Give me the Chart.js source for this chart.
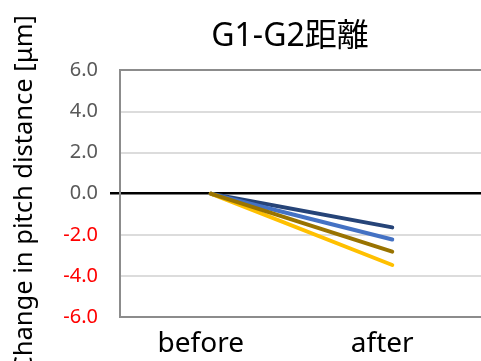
<!DOCTYPE html>
<html>
<head>
<meta charset="utf-8">
<script src="https://cdn.jsdelivr.net/npm/chart.js@4/dist/chart.umd.min.js"></script>
<style>
  html, body { margin: 0; padding: 0; overflow: hidden; background: #fff; }
  #wrap { position: relative; width: 481px; height: 361px; overflow: hidden; }
  canvas { display: block; position: absolute; left: 0; top: 0; }
</style>
</head>
<body>
<div id="wrap"><canvas id="c" width="580" height="361"></canvas></div>
<script>
// Pitch distance change between G1 and G2, before vs. after
const categories = ['before', 'after'];
const seriesA = [0, -1.64];
const seriesB = [0, -2.23];
const seriesC = [0, -2.82];
const seriesD = [0, -3.47];
const yTickValues = [6, 4, 2, 0, -2, -4, -6];

const FONT = "'Noto Sans', 'Noto Sans CJK JP', sans-serif";

const line = (data, color, order) => ({
  data, borderColor: color, backgroundColor: color,
  borderWidth: 4, pointRadius: 0, borderCapStyle: 'round',
  tension: 0, order
});

new Chart(document.getElementById('c'), {
  type: 'line',
  data: {
    labels: categories,
    datasets: [
      line(seriesA, '#264478', 3),
      line(seriesB, '#4472C4', 2),
      line(seriesD, '#FFC000', 1),
      line(seriesC, '#997300', 0)
    ]
  },
  options: {
    responsive: false,
    animation: false,
    layout: { padding: 0 },
    plugins: {
      legend: { display: false },
      tooltip: { enabled: false },
      title: {
        display: true,
        text: 'G1-G2距離',
        color: '#000',
        font: { family: FONT, size: 32, weight: 'normal', lineHeight: 1.2 },
        padding: { top: 18, bottom: 14 }
      }
    },
    scales: {
      x: {
        type: 'category',
        offset: true,
        grid: { display: false, drawTicks: false },
        border: { display: true, color: '#8c8c8c', width: 2 },
        ticks: {
          color: '#000', padding: 10, labelOffset: -10,
          font: { family: FONT, size: 28, lineHeight: 1.2 }
        },
        afterFit: s => { s.height = 44; }
      },
      y: {
        position: 'left',
        min: -6, max: 6,
        afterBuildTicks: s => { s.ticks = yTickValues.map(v => ({ value: v })); },
        grid: {
          drawTicks: true,
          tickLength: 10,
          color: c => c.tick.value === 0 ? '#000' : (Math.abs(c.tick.value) === 6 ? '#8c8c8c' : '#dcdcdc'),
          lineWidth: c => c.tick.value === 0 ? 2.5 : 2,
          tickColor: c => c.tick.value === 0 ? '#000' : 'rgba(0,0,0,0)',
          tickWidth: 2.5
        },
        border: { display: true, color: '#8c8c8c', width: 2 },
        ticks: {
          padding: 12,
          color: c => c.tick.value < 0 ? '#ff0000' : '#595959',
          font: { family: FONT, size: 20 },
          callback: v => Number(v).toFixed(1)
        },
        title: {
          display: true,
          text: 'Change in pitch distance [μm]',
          color: '#000',
          font: { family: FONT, size: 25.5, lineHeight: 1.2 },
          padding: { top: 9, bottom: 0 }
        },
        afterFit: s => { s.width = 120; }
      },
      // spacer on the right so the plot runs to the right edge and the title sits over it
      yRight: {
        position: 'right',
        min: -6, max: 6,
        grid: { display: false, drawTicks: false },
        border: { display: false },
        ticks: { display: false },
        afterFit: s => { s.width = 97; }
      }
    }
  }
});
</script>
</body>
</html>
